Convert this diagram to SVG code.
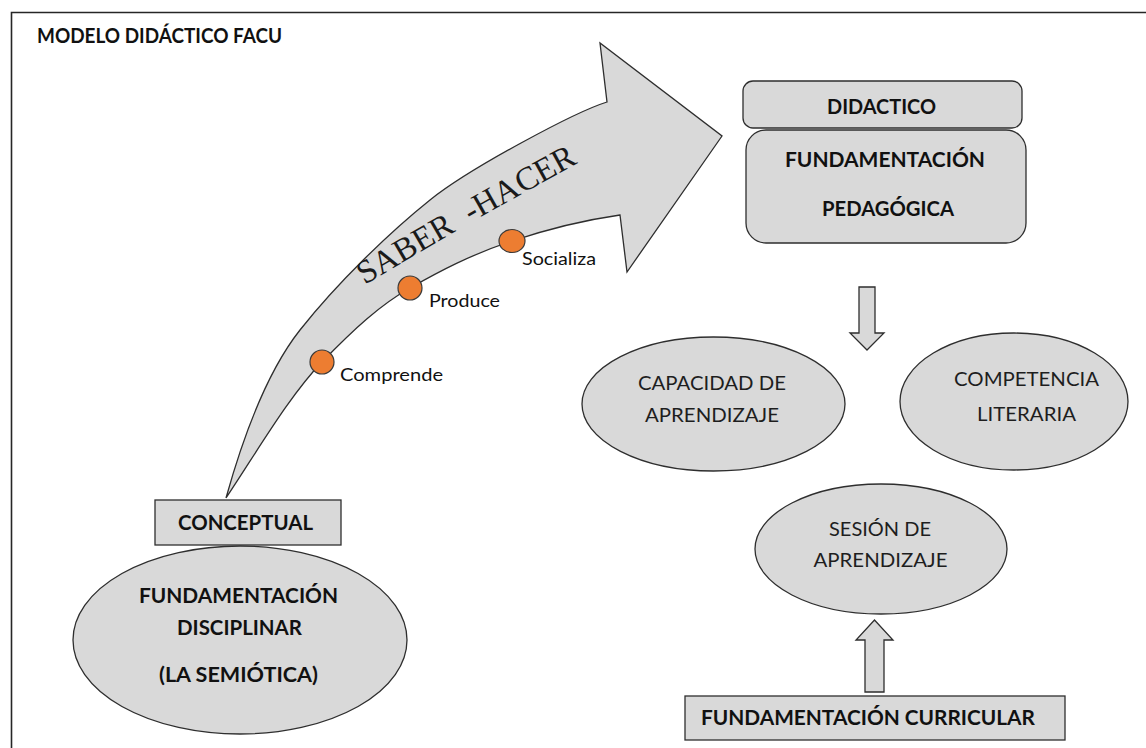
<svg xmlns="http://www.w3.org/2000/svg" width="1146" height="748" viewBox="0 0 1146 748">
<style>
.shape{fill:#d9d9d9;stroke:#2e2e2e;stroke-width:1.3}
.dot{fill:#ed7d31;stroke:#3a3a3a;stroke-width:1.2}
.b{font-family:Lato,"Open Sans","Liberation Sans",sans-serif;font-weight:bold;font-size:20px;fill:#111;text-anchor:middle}
.r{font-family:Lato,"Open Sans","Liberation Sans",sans-serif;font-size:19px;fill:#1e1e1e;text-anchor:middle}
.s{font-family:Lato,"Open Sans","Liberation Sans",sans-serif;font-size:18px;fill:#111}
.serif{font-family:"Liberation Serif","DejaVu Serif",serif;font-size:33px;fill:#1a1a1a}
</style>
<rect x="0" y="0" width="1146" height="748" fill="#ffffff"/>
<path d="M11.5,748 V12.5 H1146" fill="none" stroke="#262626" stroke-width="1.6"/>
<text id="title" x="37" y="43" class="b" style="text-anchor:start" textLength="245" lengthAdjust="spacingAndGlyphs">MODELO DIDÁCTICO FACU</text>

<g id="connectors">
  <path id="saber-hacer-arrow" class="shape" d="M226,498 C238,455 262,378 300,330 C338,282 390,232 430,200 C470,168 575,112 607,102 L600,43 L722,136 L627,272 L620,215 C585,220 554,227 512,241 C470,255 440,271 410,288 C380,305 354,329 322,362 C290,395 258,450 226,498 Z"/>
  <path id="down-arrow" class="shape" d="M859,287 H875 V333 H884 L867,350 L850,333 H859 Z"/>
  <path id="up-arrow" class="shape" d="M865,692 V640 H856 L874.5,620 L893,640 H884 V692 Z"/>
</g>

<g id="saber-hacer">
  <path id="sh-path" d="M365,285 Q469,222 593,155" fill="none"/>
  <text class="serif"><textPath href="#sh-path">SABER</textPath></text>
  <text class="serif"><textPath href="#sh-path" startOffset="123">-HACER</textPath></text>
</g>

<g id="comprende">
  <circle class="dot" cx="322" cy="362" r="12"/>
  <text class="s" x="340" y="381" textLength="103" lengthAdjust="spacingAndGlyphs">Comprende</text>
</g>
<g id="produce">
  <circle class="dot" cx="410" cy="288" r="12"/>
  <text class="s" x="429" y="307" textLength="71" lengthAdjust="spacingAndGlyphs">Produce</text>
</g>
<g id="socializa">
  <ellipse class="dot" cx="512" cy="241" rx="13" ry="11.5"/>
  <text class="s" x="522" y="265" textLength="74" lengthAdjust="spacingAndGlyphs">Socializa</text>
</g>

<g id="didactico">
  <rect class="shape" x="743" y="81" width="279" height="47" rx="10"/>
  <text class="b" x="881.5" y="114" textLength="109" lengthAdjust="spacingAndGlyphs">DIDACTICO</text>
</g>
<g id="fundamentacion-pedagogica">
  <rect class="shape" x="746" y="130" width="280" height="113" rx="20"/>
  <text class="b" x="885" y="167" textLength="200" lengthAdjust="spacingAndGlyphs">FUNDAMENTACIÓN</text>
  <text class="b" x="888" y="216" textLength="132" lengthAdjust="spacingAndGlyphs">PEDAGÓGICA</text>
</g>

<g id="capacidad">
  <ellipse class="shape" cx="713.5" cy="404" rx="131.5" ry="67"/>
  <text class="r" x="712" y="390" textLength="148" lengthAdjust="spacingAndGlyphs">CAPACIDAD DE</text>
  <text class="r" x="712" y="422" textLength="134" lengthAdjust="spacingAndGlyphs">APRENDIZAJE</text>
</g>
<g id="competencia">
  <ellipse class="shape" cx="1014" cy="401.5" rx="114" ry="68.5"/>
  <text class="r" x="1026.5" y="386" textLength="145" lengthAdjust="spacingAndGlyphs">COMPETENCIA</text>
  <text class="r" x="1026.5" y="421" textLength="99" lengthAdjust="spacingAndGlyphs">LITERARIA</text>
</g>
<g id="sesion">
  <ellipse class="shape" cx="881" cy="549" rx="126" ry="65"/>
  <text class="r" x="880" y="536" textLength="102" lengthAdjust="spacingAndGlyphs">SESIÓN DE</text>
  <text class="r" x="880.5" y="567" textLength="134" lengthAdjust="spacingAndGlyphs">APRENDIZAJE</text>
</g>
<g id="curricular">
  <rect class="shape" x="685" y="696" width="380" height="44"/>
  <text class="b" x="868" y="725" textLength="334" lengthAdjust="spacingAndGlyphs">FUNDAMENTACIÓN CURRICULAR</text>
</g>

<g id="conceptual">
  <rect class="shape" x="155" y="500" width="186" height="45"/>
  <text class="b" x="245.5" y="530" textLength="135" lengthAdjust="spacingAndGlyphs">CONCEPTUAL</text>
</g>
<g id="fundamentacion-disciplinar">
  <ellipse class="shape" cx="240" cy="640" rx="167" ry="94"/>
  <text class="b" x="238.5" y="603" textLength="199" lengthAdjust="spacingAndGlyphs">FUNDAMENTACIÓN</text>
  <text class="b" x="239.5" y="635" textLength="125" lengthAdjust="spacingAndGlyphs">DISCIPLINAR</text>
  <text class="b" x="238.5" y="682" textLength="159" lengthAdjust="spacingAndGlyphs">(LA SEMIÓTICA)</text>
</g>
</svg>
